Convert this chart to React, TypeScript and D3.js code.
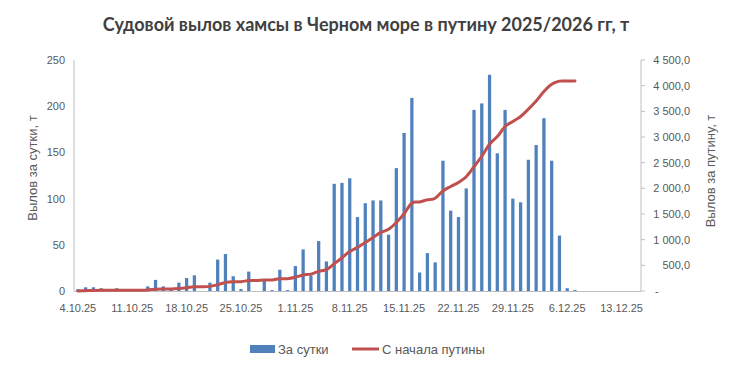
import React from 'react';
import * as d3 from 'd3';

// daily catch, t (4.10.25 .. 7.12.25)
const daily = [
  2, 4, 4, 3, 0, 3, 0, 0, 0, 5, 12, 5, 3, 9, 14, 17, 0, 9, 34, 40,
  16, 2, 21, 0, 12, 1, 23, 1, 27, 45, 17, 54, 32, 116, 117, 122, 80, 95, 98, 98,
  61, 133, 171, 209, 20, 41, 31, 141, 87, 80, 111, 196, 203, 234, 149, 196, 100, 96, 142, 158,
  187, 141, 60, 3, 1,
];

// catch since start of season, t
const cumulative = [
  2, 6, 10, 13, 13, 16, 16, 16, 16, 21, 33, 38, 41, 50, 64, 81, 81, 90, 124, 164,
  180, 182, 203, 203, 215, 216, 239, 240, 267, 312, 329, 383, 415, 531, 648, 770, 850, 945, 1043, 1141,
  1202, 1335, 1506, 1715, 1735, 1776, 1807, 1948, 2035, 2115, 2226, 2422, 2625, 2859, 3008, 3204, 3304, 3400, 3542, 3700,
  3887, 4028, 4088, 4091, 4092,
];

const xLabels = ['4.10.25', '11.10.25', '18.10.25', '25.10.25', '1.11.25', '8.11.25',
  '15.11.25', '22.11.25', '29.11.25', '6.12.25', '13.12.25'];
const leftTicks = [0, 50, 100, 150, 200, 250];
const rightTicks = [0, 500, 1000, 1500, 2000, 2500, 3000, 3500, 4000, 4500];

const days = d3.timeDay.range(new Date(2025, 9, 4), new Date(2025, 11, 16));
const fmtDay = d3.timeFormat('%-d.%-m.%y');
const categories = days.map(fmtDay);

const W = 733, H = 371;
const plot = {left: 74, right: 641, top: 60, bottom: 291};

const fmtRight = (v: number) => v === 0 ? '-' :
  d3.format(',.1f')(v).replace(/,/g, ' ').replace('.', ',');

export default function App() {
  const x = d3.scaleBand().domain(categories).range([plot.left, plot.right]);
  const yL = d3.scaleLinear().domain([0, 250]).range([plot.bottom, plot.top]);
  const yR = d3.scaleLinear().domain([0, 4500]).range([plot.bottom, plot.top]);
  const bw = x.bandwidth() * 0.42;
  const cx = (i: number) => (x(categories[i]) as number) + x.bandwidth() / 2;

  const line = d3.line<number>()
    .x((d, i) => cx(i))
    .y(d => yR(d))
    .curve(d3.curveCardinal.tension(0));

  const txt = '#595959';
  const font = '"Liberation Sans", Arial, sans-serif';

  return (
    <div style={{position: 'absolute', left: 0, top: 0}}>
      <svg width={W} height={H} style={{display: 'block', background: '#fff'}}>
        <text x={366} y={31} textAnchor="middle" fontFamily="Lato, sans-serif" fontWeight="bold"
          fontSize={18} fill="#404040">Судовой вылов хамсы в Черном море в путину 2025/2026 гг, т</text>

        {/* axes lines */}
        <line x1={plot.left} x2={plot.left} y1={plot.top} y2={plot.bottom} stroke="#bfbfbf" />
        <line x1={plot.right} x2={plot.right} y1={plot.top} y2={plot.bottom} stroke="#bfbfbf" />
        <line x1={plot.left} x2={plot.right} y1={plot.bottom + 0.5} y2={plot.bottom + 0.5} stroke="#bfbfbf" />
        {rightTicks.map(t => (
          <line key={'rt' + t} x1={plot.right} x2={plot.right + 4} y1={yR(t)} y2={yR(t)} stroke="#bfbfbf" />
        ))}

        {/* bars */}
        {daily.map((v, i) => v > 0 && (
          <rect key={'b' + i} x={cx(i) - bw / 2} width={bw} y={yL(v)} height={yL(0) - yL(v)} fill="#4F81BD" />
        ))}

        <path d={line(cumulative) || ''} fill="none" stroke="#C0504D" strokeWidth={3} strokeLinecap="round" strokeLinejoin="round" />

        {/* tick labels */}
        <g fontFamily={font} fontSize={11} fill={txt}>
          {leftTicks.map(t => (
            <text key={'l' + t} x={65} y={yL(t) + 4} textAnchor="end">{t}</text>
          ))}
          {rightTicks.map(t => t === 0 ? (
            <text key={'r' + t} x={655} y={yR(t) + 4}>-</text>
          ) : (
            <text key={'r' + t} x={690} y={yR(t) + 4} textAnchor="end">{fmtRight(t)}</text>
          ))}
          {xLabels.map(l => (
            <text key={'x' + l} x={cx(categories.indexOf(l))} y={312} textAnchor="middle">{l}</text>
          ))}
        </g>

        {/* axis titles */}
        <text transform="translate(37,168) rotate(-90)" textAnchor="middle" fontFamily={font} fontSize={13} fill={txt}>Вылов за сутки, т</text>
        <text transform="translate(715,171) rotate(-90)" textAnchor="middle" fontFamily={font} fontSize={13} fill={txt}>Вылов за путину, т</text>

        {/* legend */}
        <g fontFamily={font} fontSize={13} fill={txt}>
          <rect x={250} y={345} width={25} height={8} fill="#4F81BD" />
          <text x={278} y={354}>За сутки</text>
          <line x1={352} x2={379} y1={349} y2={349} stroke="#C0504D" strokeWidth={3} />
          <text x={382} y={354}>С начала путины</text>
        </g>
      </svg>
    </div>
  );
}
